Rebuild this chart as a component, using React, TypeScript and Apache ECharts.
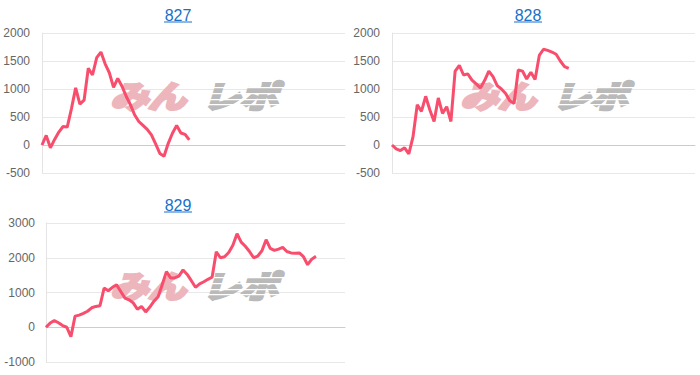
import React, { useEffect, useRef } from "react";
import * as echarts from "echarts";

// x slots (games, unlabeled)
const SLOT_COUNT = 73;
const slots: string[] = Array.from({ length: SLOT_COUNT }, (_, i) => String(i));

const titles = ["827", "828", "829"];

const s827 = [0, 170, -50, 100, 230, 330, 320, 650, 1020, 730, 800, 1370, 1250, 1560, 1660, 1450, 1290, 1030, 1190, 1050, 870, 720, 540, 420, 350, 280, 180, 20, -150, -200, 30, 210, 350, 215, 190, 90];

const s828 = [0, -70, -100, -50, -160, 150, 720, 600, 870, 625, 420, 840, 565, 684, 420, 1320, 1420, 1250, 1270, 1160, 1090, 1020, 1150, 1320, 1220, 1060, 1000, 920, 790, 740, 1340, 1320, 1180, 1300, 1170, 1600, 1710, 1690, 1660, 1620, 1500, 1400, 1370];

const s829 = [0, 120, 190, 130, 50, 0, -270, 320, 350, 400, 460, 560, 600, 620, 1130, 1050, 1150, 1220, 1030, 840, 790, 700, 520, 600, 440, 580, 750, 880, 1230, 1600, 1420, 1420, 1470, 1650, 1520, 1340, 1150, 1250, 1310, 1380, 1440, 2170, 2000, 2030, 2150, 2360, 2690, 2450, 2330, 2180, 2000, 2050, 2200, 2520, 2270, 2210, 2250, 2300, 2180, 2140, 2130, 2140, 2030, 1800, 1960, 2040];

const seriesData = [s827, s828, s829];

const yRangeSmall = { min: -500, max: 2000, interval: 500 };
const yRangeLarge = { min: -1000, max: 3000, interval: 1000 };

const LINE_COLOR = "#f84d6c";
const LINK_COLOR = "#1a6fc8";
const LABEL_FONT = "Liberation Sans, Arial, Helvetica, sans-serif";

const panels = [
  { block: { x: 0, y: 0 }, grid: { left: 42, top: 33, width: 303, height: 140 }, range: yRangeSmall, labelMargin: 12 },
  { block: { x: 350, y: 0 }, grid: { left: 392, top: 33, width: 303, height: 140 }, range: yRangeSmall, labelMargin: 12 },
  { block: { x: 0, y: 190 }, grid: { left: 46, top: 223, width: 299, height: 139 }, range: yRangeLarge, labelMargin: 11 },
];

function buildOption() {
  const grid: any[] = [];
  const xAxis: any[] = [];
  const yAxis: any[] = [];
  const series: any[] = [];
  const graphic: any[] = [];

  panels.forEach((p, i) => {
    grid.push({ ...p.grid, containLabel: false });
    xAxis.push({
      gridIndex: i,
      type: "category",
      data: slots,
      boundaryGap: false,
      axisLabel: { show: false },
      axisTick: { show: false },
      splitLine: { show: false },
      axisLine: { show: true, onZero: true, lineStyle: { color: "#cccccc", width: 1 } },
    });
    yAxis.push({
      gridIndex: i,
      type: "value",
      min: p.range.min,
      max: p.range.max,
      interval: p.range.interval,
      axisLine: { show: true, lineStyle: { color: "#e4e4e4" } },
      axisTick: { show: false },
      splitLine: { show: true, lineStyle: { color: "#e8e8e8", width: 1 } },
      axisLabel: {
        color: "#666666",
        fontSize: 12,
        margin: p.labelMargin,
        fontFamily: LABEL_FONT,
        formatter: (v: number) => String(v),
      },
    });
    series.push({
      type: "line",
      xAxisIndex: i,
      yAxisIndex: i,
      data: seriesData[i],
      symbol: "none",
      smooth: false,
      lineStyle: { color: LINE_COLOR, width: 3 },
      z: 5,
    });

    const bx = p.block.x;
    const by = p.block.y;
    const cx = bx + 178;
    // title (link style)
    graphic.push({
      type: "text",
      x: cx,
      y: by + 15,
      z: 10,
      style: {
        text: titles[i],
        fill: LINK_COLOR,
        fontSize: 16,
        fontFamily: LABEL_FONT,
        textAlign: "center",
        textVerticalAlign: "middle",
      },
    });
    graphic.push({
      type: "line",
      z: 10,
      shape: { x1: cx - 14, y1: by + 22, x2: cx + 14, y2: by + 22 },
      style: { stroke: LINK_COLOR, lineWidth: 1 },
    });

    // watermark logo
    graphic.push({
      type: "text",
      x: bx + 148,
      y: by + 95,
      scaleX: 1.22,
      z: 1,
      style: {
        text: "みん",
        fill: "#edb6bc",
        stroke: "#edb6bc",
        lineWidth: 3,
        fontSize: 31,
        fontWeight: "bold",
        fontStyle: "italic",
        fontFamily: "Noto Sans CJK JP",
        textAlign: "center",
        textVerticalAlign: "middle",
      },
    });
    graphic.push({
      type: "text",
      x: bx + 240,
      y: by + 95,
      scaleX: 1.22,
      z: 1,
      style: {
        text: "レポ",
        fill: "#bababa",
        stroke: "#bababa",
        lineWidth: 3,
        fontSize: 31,
        fontWeight: "bold",
        fontStyle: "italic",
        fontFamily: "Noto Sans CJK JP",
        textAlign: "center",
        textVerticalAlign: "middle",
      },
    });
    [87, 93, 99, 104].forEach((dy) => {
      graphic.push({
        type: "rect",
        z: 2,
        shape: { x: bx + 197, y: by + dy, width: 88, height: 1.3 },
        style: { fill: "#ffffff" },
      });
    });
  });

  return {
    animation: false,
    backgroundColor: "#ffffff",
    grid,
    xAxis,
    yAxis,
    series,
    graphic,
  };
}

export default function App() {
  const ref = useRef<HTMLDivElement | null>(null);
  useEffect(() => {
    if (!ref.current) return;
    const chart = echarts.init(ref.current, undefined, { renderer: "svg" });
    chart.setOption(buildOption() as any);
    return () => chart.dispose();
  }, []);
  return (
    <div
      ref={ref}
      style={{ position: "absolute", left: 0, top: 0, width: 700, height: 375 }}
    />
  );
}
